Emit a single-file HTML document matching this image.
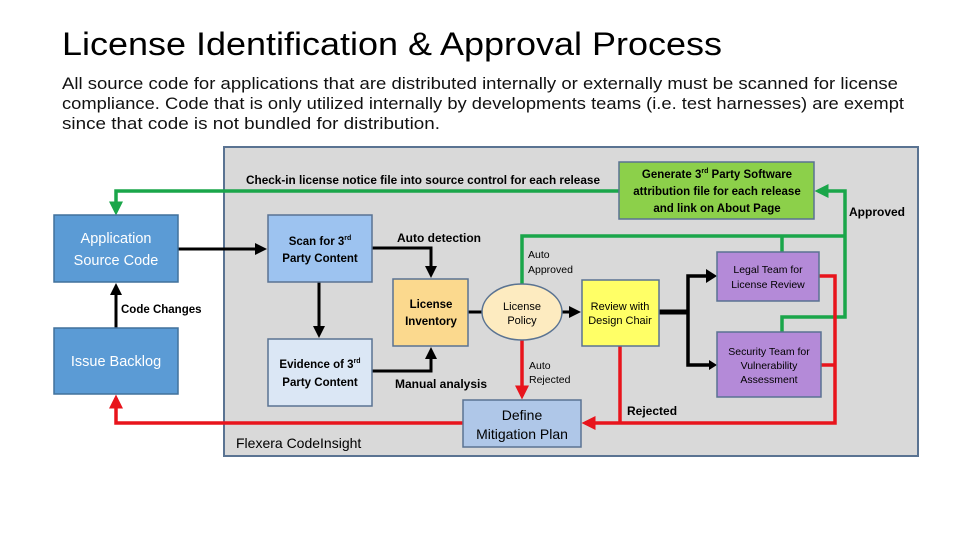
<!DOCTYPE html>
<html><head><meta charset="utf-8"><style>
body{margin:0;width:960px;height:540px;background:#fff;overflow:hidden;font-family:"Liberation Sans",sans-serif}
</style></head><body>
<svg width="960" height="540" xmlns="http://www.w3.org/2000/svg" font-family="Liberation Sans, sans-serif">
<defs>
<marker id="ak" markerWidth="4" markerHeight="4" refX="3" refY="2" orient="auto" markerUnits="strokeWidth"><path d="M0,0L4,2L0,4z" fill="#000"/></marker>
<marker id="ag" markerWidth="4" markerHeight="4" refX="3" refY="2" orient="auto" markerUnits="strokeWidth"><path d="M0,0L4,2L0,4z" fill="#1aa64a"/></marker>
<marker id="ar" markerWidth="4" markerHeight="4" refX="3" refY="2" orient="auto" markerUnits="strokeWidth"><path d="M0,0L4,2L0,4z" fill="#e8141c"/></marker>
</defs>
<text x="62" y="55" font-size="32" font-family="Liberation Sans Narrow, Liberation Sans, sans-serif" textLength="660" lengthAdjust="spacingAndGlyphs">License Identification &amp; Approval Process</text>
<text font-size="16.5" fill="#111">
<tspan x="62" y="89" textLength="836" lengthAdjust="spacingAndGlyphs">All source code for applications that are distributed internally or externally must be scanned for license</tspan>
<tspan x="62" y="109" textLength="842" lengthAdjust="spacingAndGlyphs">compliance. Code that is only utilized internally by developments teams (i.e. test harnesses) are exempt</tspan>
<tspan x="62" y="129" textLength="378" lengthAdjust="spacingAndGlyphs">since that code is not bundled for distribution.</tspan>
</text>
<rect x="224" y="147" width="694" height="309" fill="#d9d9d9" stroke="#5a7392" stroke-width="2"/>
<polyline points="619,191 116,191 116,212" fill="none" stroke="#1aa64a" stroke-width="3.5" marker-end="url(#ag)"/>
<polyline points="522,285 522,236 845,236" fill="none" stroke="#1aa64a" stroke-width="3.5"/>
<line x1="782" y1="236" x2="782" y2="252" stroke="#1aa64a" stroke-width="3.5"/>
<polyline points="782,332 782,317 845,317 845,191 818,191" fill="none" stroke="#1aa64a" stroke-width="3.5" marker-end="url(#ag)"/>
<polyline points="819,276 835,276 835,423 585,423" fill="none" stroke="#e8141c" stroke-width="3.5" marker-end="url(#ar)"/>
<line x1="821" y1="365" x2="835" y2="365" stroke="#e8141c" stroke-width="3.5"/>
<line x1="620" y1="346" x2="620" y2="423" stroke="#e8141c" stroke-width="3.5"/>
<line x1="522" y1="340" x2="522" y2="396" stroke="#e8141c" stroke-width="3.5" marker-end="url(#ar)"/>
<polyline points="463,423 116,423 116,398" fill="none" stroke="#e8141c" stroke-width="3.5" marker-end="url(#ar)"/>
<line x1="178" y1="249" x2="264" y2="249" stroke="#000" stroke-width="3" marker-end="url(#ak)"/>
<line x1="116" y1="328" x2="116" y2="286" stroke="#000" stroke-width="3" marker-end="url(#ak)"/>
<line x1="319" y1="282" x2="319" y2="335" stroke="#000" stroke-width="3" marker-end="url(#ak)"/>
<polyline points="372,248 431,248 431,275" fill="none" stroke="#000" stroke-width="3" marker-end="url(#ak)"/>
<polyline points="372,371 431,371 431,350" fill="none" stroke="#000" stroke-width="3" marker-end="url(#ak)"/>
<line x1="468" y1="312" x2="482" y2="312" stroke="#000" stroke-width="3"/>
<line x1="562" y1="312" x2="578" y2="312" stroke="#000" stroke-width="3" marker-end="url(#ak)"/>
<polyline points="659,312 688,312" fill="none" stroke="#000" stroke-width="5"/>
<polyline points="710,276 688,276 688,365 712,365" fill="none" stroke="#000" stroke-width="3.5"/>
<path d="M706,269L717,276L706,283z M709,360L717,365L709,370z"/>
<rect x="54" y="215" width="124" height="67" fill="#5b9bd5" stroke="#41719c" stroke-width="1.5"/>
<text x="116" y="243" font-size="14.5" fill="#fff" text-anchor="middle">Application</text>
<text x="116" y="265" font-size="14.5" fill="#fff" text-anchor="middle">Source Code</text>
<rect x="54" y="328" width="124" height="66" fill="#5b9bd5" stroke="#41719c" stroke-width="1.5"/>
<text x="116" y="366" font-size="14.5" fill="#fff" text-anchor="middle">Issue Backlog</text>
<text x="121" y="313" font-size="11.5" font-weight="bold">Code Changes</text>
<rect x="268" y="215" width="104" height="67" fill="#9dc3f0" stroke="#5a7392" stroke-width="1.5"/>
<text x="320" y="245" font-size="11.5" font-weight="bold" text-anchor="middle">Scan for 3<tspan font-size="7" dy="-5">rd</tspan></text>
<text x="320" y="262" font-size="11.5" font-weight="bold" text-anchor="middle">Party Content</text>
<rect x="268" y="339" width="104" height="67" fill="#dbe7f5" stroke="#5a7392" stroke-width="1.5"/>
<text x="320" y="368" font-size="11.5" font-weight="bold" text-anchor="middle">Evidence of 3<tspan font-size="7" dy="-5">rd</tspan></text>
<text x="320" y="386" font-size="11.5" font-weight="bold" text-anchor="middle">Party Content</text>
<rect x="393" y="279" width="75" height="67" fill="#fbd98e" stroke="#5a7392" stroke-width="1.5"/>
<text x="431" y="308" font-size="11.5" font-weight="bold" text-anchor="middle">License</text>
<text x="431" y="325" font-size="11.5" font-weight="bold" text-anchor="middle">Inventory</text>
<ellipse cx="522" cy="312" rx="40" ry="28" fill="#fdebc0" stroke="#5a7392" stroke-width="1.5"/>
<text x="522" y="310" font-size="11" text-anchor="middle">License</text>
<text x="522" y="324" font-size="11" text-anchor="middle">Policy</text>
<rect x="463" y="400" width="118" height="47" fill="#afc7e8" stroke="#5a7392" stroke-width="1.5"/>
<text x="522" y="420" font-size="14" text-anchor="middle">Define</text>
<text x="522" y="439" font-size="14" text-anchor="middle">Mitigation Plan</text>
<rect x="582" y="280" width="77" height="66" fill="#ffff66" stroke="#5a7392" stroke-width="1.5"/>
<text x="620" y="310" font-size="11" text-anchor="middle">Review with</text>
<text x="620" y="324" font-size="11" text-anchor="middle">Design Chair</text>
<rect x="619" y="162" width="195" height="57" fill="#8cd04a" stroke="#5a7392" stroke-width="1.5"/>
<text x="717" y="178" font-size="11.5" font-weight="bold" text-anchor="middle">Generate 3<tspan font-size="7" dy="-5">rd</tspan><tspan dy="5"> Party Software</tspan></text>
<text x="717" y="195" font-size="11.5" font-weight="bold" text-anchor="middle">attribution file for each release</text>
<text x="717" y="212" font-size="11.5" font-weight="bold" text-anchor="middle">and link on About Page</text>
<rect x="717" y="252" width="102" height="49" fill="#b48ad8" stroke="#5a7392" stroke-width="1.5"/>
<text x="768" y="273" font-size="10.5" text-anchor="middle">Legal Team for</text>
<text x="768" y="288" font-size="10.5" text-anchor="middle">License Review</text>
<rect x="717" y="332" width="104" height="65" fill="#b48ad8" stroke="#5a7392" stroke-width="1.5"/>
<text x="769" y="355" font-size="10.5" text-anchor="middle">Security Team for</text>
<text x="769" y="369" font-size="10.5" text-anchor="middle">Vulnerability</text>
<text x="769" y="383" font-size="10.5" text-anchor="middle">Assessment</text>
<text x="246" y="184" font-size="12" font-weight="bold" textLength="354" lengthAdjust="spacingAndGlyphs">Check-in license notice file into source control for each release</text>
<text x="397" y="242" font-size="12" font-weight="bold">Auto detection</text>
<text x="395" y="388" font-size="12" font-weight="bold">Manual analysis</text>
<text x="528" y="258" font-size="10.5">Auto</text>
<text x="528" y="273" font-size="10.5">Approved</text>
<text x="529" y="369" font-size="10.5">Auto</text>
<text x="529" y="383" font-size="10.5">Rejected</text>
<text x="627" y="415" font-size="12" font-weight="bold">Rejected</text>
<text x="849" y="216" font-size="12" font-weight="bold">Approved</text>
<text x="236" y="448" font-size="14">Flexera CodeInsight</text>
</svg>
</body></html>
